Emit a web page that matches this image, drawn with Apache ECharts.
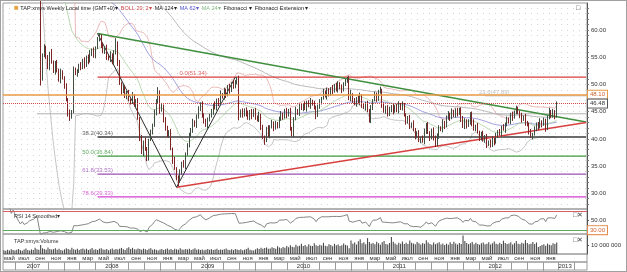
<!DOCTYPE html>
<html><head><meta charset="utf-8">
<script src="https://cdn.jsdelivr.net/npm/echarts@6/dist/echarts.min.js"></script>
<style>
html,body{margin:0;padding:0;background:#fff}
#c{width:625px;height:270px;border:1px solid #a0a0a0}
</style>
</head><body><div id="c"></div>
<script>
// ---------------- DATA ----------------
const startWeek = Date.UTC(2007, 4, 14);   // first weekly slot on the axis
const totalWeeks = 318;                    // weekly slots shown on the x axis
// weekly closes before the 2:1 split (above the visible price range)
const preSplitOpen = 93.0;
const preSplitClose = [93.5,95.2,94.1,96.8,95.5,97.2,96.1,94.8,93.2,91.5,92.8,90.6,89.9,91.7,93.4,92.2,94.5,96.3,97.8,99.1];
// weekly closes after the split
const postSplitClose = [
51.0,55.5,56.8,54.9,53.2,55.8,54.1,52.3,53.9,52.6,
50.8,52.4,51.1,49.6,47.2,44.6,44.0,45.1,52.8,51.9,
52.4,53.6,53.0,54.4,53.5,55.1,54.2,55.6,56.3,55.2,56.8,
58.1,58.9,
57.2,56.0,56.8,55.1,54.6,55.5,54.0,55.9,57.6,
54.0,50.2,48.6,49.4,47.9,
48.5,47.2,46.8,47.9,46.1,46.9,
43.8,40.2,37.6,39.4,38.1,36.4,39.8,41.2,
42.5,44.8,46.9,48.6,
45.2,46.1,43.4,42.0,40.6,41.3,
38.2,36.0,34.5,32.9,32.2,
33.8,35.6,34.9,37.2,38.8,40.5,
41.7,43.2,42.5,44.1,45.3,46.4,
44.5,43.1,42.4,43.6,44.2,
45.0,46.3,45.6,47.1,46.5,48.2,47.6,
48.9,48.1,49.5,48.8,50.2,49.6,50.5,51.0,
44.2,
45.1,44.3,45.4,44.6,43.8,45.0,44.2,45.3,44.0,43.5,44.4,
42.1,40.3,39.6,41.8,40.7,
42.2,43.0,41.9,42.7,42.3,
43.8,44.6,43.9,45.1,44.4,45.2,
42.0,40.9,
43.6,45.2,44.7,46.1,45.5,46.3,
45.6,46.7,46.0,47.0,46.4,45.8,44.2,45.9,46.8,
47.5,48.6,47.8,48.9,48.2,
49.3,48.7,49.8,49.1,50.2,49.4,48.9,50.1,50.6,
50.9,47.6,
48.1,47.0,46.4,47.5,46.8,47.9,46.1,45.7,46.6,45.2,43.4,
45.6,47.1,48.2,47.4,48.6,49.0,
46.2,45.0,45.8,44.4,45.3,45.9,45.1,46.0,45.4,46.3,45.6,46.4,
44.3,43.1,43.9,42.4,42.8,
41.6,40.4,41.1,39.8,40.2,39.5,
41.3,42.6,41.2,40.1,41.5,40.3,
38.9,
40.5,42.1,41.6,43.0,42.4,43.9,
44.6,43.8,45.0,44.3,45.2,44.7,45.5,
43.6,42.2,43.4,42.5,43.1,44.6,
43.0,41.8,42.4,41.2,40.1,40.9,39.8,40.4,38.9,39.5,
38.8,39.9,39.3,
40.6,41.4,40.9,42.1,41.7,
42.8,43.6,43.1,44.4,43.9,
45.0,45.6,44.8,
44.2,43.5,44.1,43.0,42.6,
41.2,40.4,40.9,
41.8,42.7,42.2,43.2,42.6,43.4,
42.0,
43.9,45.1,44.3,45.0,
44.2,46.48];
// upper / lower wick lengths after the split, in tenths of a dollar
const wickUp = [
4,2,6,3,5,2,7,3,4,6, 3,5,2,4,6,3,8,2,5,3, 4,2,5,3,6,2,4,7,3,5, 2,6,5,3,4,2,5,3,6,2,
4,9,3,5,2,6,4,3,5,2, 7,3,4,6,2,5,3,8,4,2, 5,3,6,4,9,3,5,2,6,4, 3,5,2,7,3,4,6,2,5,3,
4,6,3,5,2,4,7,3,5,2, 6,3,4,5,2,6,3,4,7,2, 5,3,4,6,2,5,3,4,6,3, 5,2,4,6,3,5,2,4,3,6,
2,5,3,4,7,3,5,2,6,4, 3,5,2,4,6,3,5,2,4,7, 3,5,4,2,6,3,4,5,2,6, 3,4,5,2,6,3,5,4,2,6,
3,5,4,2,6,3,4,5,7,9, 3,5,2,4,6,3,5,2,4,3, 6,2,5,3,4,6,2,5,3,4, 6,3,5,2,4,6,3,5,2,4,
3,5,2,6,4,3,5,2,4,6, 3,5,2,4,6,3,5,4,2,6, 3,4,5,2,6,3,4,5,2,3, 6,4,2,5,3,4,6,2,5,3,
4,6,3,5,2,4,6,3,5,2, 4,3,6,2,5,3,4,6,2,5, 3,4,6,2,5,3,4,6,2,5, 3,4,6,2,5,3,4,6,2,5,
3,4];
const wickDn = [
12,3,5,2,4,6,3,2,5,4, 3,6,2,4,3,5,7,3,4,2, 5,3,4,2,6,3,5,2,4,3, 4,3,2,5,3,4,6,2,5,3,
2,4,6,3,5,2,4,6,3,5, 4,2,5,3,6,4,8,3,5,4, 2,4,3,5,3,6,2,4,5,3, 4,3,6,2,5,9,3,4,2,5,
3,4,2,6,3,5,4,2,6,3, 2,5,4,3,6,2,4,5,3,2, 4,6,3,5,2,4,3,5,8,3, 4,2,5,3,4,6,2,5,3,4,
5,3,7,2,4,6,3,5,2,4, 3,5,4,2,6,3,5,4,6,2, 3,5,2,4,3,6,2,5,3,4, 6,2,4,5,3,2,6,4,3,5,
2,4,6,3,5,2,4,3,5,7, 4,2,5,3,6,4,2,5,3,4, 5,3,2,6,4,3,5,2,4,3, 2,4,6,3,5,7,3,4,2,5,
3,6,4,2,5,3,4,6,2,5, 4,3,5,2,6,4,3,5,2,4, 6,3,4,5,2,3,4,6,3,5, 2,4,6,3,5,7,3,4,2,5,
4,3,5,6,2,4,3,5,2,4, 3,5,2,6,5,3,4,6,2,5, 3,4,5,2,6,3,4,2,5,3, 4,6,3,5,2,7,4,3,5,4,
6,3];
// weekly volume, millions of shares (all slots with data)
const volume = [
4.1,3.6,4.8,3.9,5.2,4.4,3.8,4.6,5.5,4.2,3.7,4.9,6.1,4.5,3.9,5.0,4.3,6.8,5.1,4.6,9.8,6.2,5.4,4.8,7.1,5.6,4.9,5.3,6.4,4.7,5.8,4.4,3.9,
5.1,6.3,5.5,4.8,6.9,5.2,4.6,5.8,4.3,5.5,6.1,4.9,5.7,4.4,5.2,6.6,4.8,5.3,4.5,5.9,6.4,5.0,4.7,5.6,4.2,5.1,6.0,4.6,5.4,4.9,5.8,6.7,5.3,4.5,6.2,7.4,5.6,6.8,5.2,4.9,6.1,5.5,4.7,5.9,5.1,4.4,5.7,6.3,4.8,5.2,4.6,3.8,
4.9,5.6,4.5,5.3,6.1,4.8,5.5,4.3,5.9,5.2,4.7,6.4,5.0,4.6,5.4,4.9,5.8,4.4,5.1,6.2,4.7,5.3,4.5,5.0,4.2,4.8,5.5,4.6,5.2,4.4,4.9,5.7,4.3,5.0,4.6,5.3,6.0,4.8,4.5,5.1,4.3,5.6,4.9,4.4,5.2,4.1,4.7,5.4,6.8,4.6,4.2,3.9,
5.1,6.3,5.4,6.8,5.9,6.5,7.2,5.8,6.1,7.5,6.6,5.9,8.4,7.1,6.4,7.8,6.9,8.8,7.3,9.6,8.1,7.4,10.2,8.6,9.1,11.4,8.9,9.8,8.3,10.6,9.2,8.7,11.8,9.5,8.8,10.1,9.4,12.3,9.0,8.5,10.7,9.9,8.4,11.2,9.6,10.4,8.9,9.7,11.5,10.0,9.3,6.2,
14.8,11.2,12.6,10.4,13.9,16.2,11.8,12.9,10.6,17.5,13.1,11.4,12.2,10.8,13.6,11.9,10.3,12.8,14.4,11.1,10.5,12.1,18.6,13.4,11.6,10.2,12.5,11.3,13.8,10.9,12.4,11.0,14.9,12.3,11.5,10.7,13.2,11.8,10.4,12.0,11.2,15.1,12.7,11.0,10.3,12.6,10.8,11.9,13.0,10.5,11.6,9.8,
11.4,10.2,12.8,10.9,13.5,11.6,10.4,12.1,11.0,20.4,14.3,12.2,10.8,11.7,13.3,10.6,12.4,11.1,10.3,11.9,12.6,10.7,11.3,12.9,10.5,11.8,13.7,11.2,10.6,12.3,11.0,14.6,12.1,10.9,11.5,12.8,10.4,11.9,14.2,11.3,10.8,12.5,11.6,15.3,12.0,10.6,11.4,13.1,10.9,12.7,7.8,8.9,
9.8,10.6,9.2,11.4,10.1,9.6,11.8,10.9,12.6];
// drawing tool levels (prices) and anchor weeks (slot indices)
const fibRatios = ['0.0','38.2','50.0','61.8','78.6'];
const fibPrices = [51.34, 40.34, 36.84, 33.53, 29.33];
const fibStartWeek = 51;
const fibExtRatio = '23.6', fibExtPrice = 47.89, fibExtStartWeek = 262;
const zigzagWeeks = [51, 94, 126], zigzagPrices = [59.35, 31.1, 51.34];
const greenTrendWeeks = [51, 317], greenTrendPrices = [59.35, 43.1];
const redTrendWeeks = [94, 317], redTrendPrices = [31.1, 43.0];
const orangeLevel = 48.10, lastPrice = 46.48, grayLevel = 44.6, grayLevelStartWeek = 18;
const priceTicks = [30, 35, 40, 45, 50, 55, 60];
const rsiLevels = [70, 30], rsiTickLabels = [50];
const volTicks = [10];
const monthNames = ['янв', 'мар', 'май', 'июл', 'сен', 'ноя'];
const yearLabels = ['2007', '2008', '2009', '2010', '2011', '2012', '2013'];

// ---------------- BUILD ----------------
const WEEK = 7 * 864e5;
const categories = Array.from({length: totalWeeks}, (_, k) => new Date(startWeek + k * WEEK).toISOString().slice(0, 10));
const closes = preSplitClose.concat(postSplitClose);
const nPre = preSplitClose.length;
const candles = closes.map((c, k) => {
  const o = k === 0 ? preSplitOpen : closes[k - 1];
  const j = k - nPre;
  const up = j >= 0 ? wickUp[j] / 10 : 0, dn = j >= 0 ? wickDn[j] / 10 : 0;
  return [o, c, +(Math.min(o, c) - dn).toFixed(2), +(Math.max(o, c) + up).toFixed(2)];
});
function ema(n) {
  const a = 2 / (n + 1); let e = closes[0];
  return closes.map((c, k) => { e = k === 0 ? c : e + a * (c - e); return +e.toFixed(3); });
}
const boll = (() => {
  const up = [], lo = [];
  closes.forEach((c, k) => {
    if (k < 19) { up.push('-'); lo.push('-'); return; }
    const w = closes.slice(k - 19, k + 1);
    const m = w.reduce((s, v) => s + v, 0) / 20;
    const sd = Math.sqrt(w.reduce((s, v) => s + (v - m) * (v - m), 0) / 20);
    up.push(+(m + 2 * sd).toFixed(3)); lo.push(+(m - 2 * sd).toFixed(3));
  });
  return {up, lo};
})();
const rsi = (() => {
  const out = ['-']; let ag = 0, al = 0;
  for (let k = 1; k < closes.length; k++) {
    const d = closes[k] - closes[k - 1], g = Math.max(d, 0), l = Math.max(-d, 0);
    if (k <= 14) { ag = (ag * (k - 1) + g) / k; al = (al * (k - 1) + l) / k; }
    else { ag = (ag * 13 + g) / 14; al = (al * 13 + l) / 14; }
    out.push(k < 3 ? '-' : +(al === 0 ? 100 : 100 - 100 / (1 + ag / al)).toFixed(2));
  }
  return out;
})();
const pos = t => (t - startWeek) / WEEK;
const lastDataT = startWeek + (closes.length - 1) * WEEK;
function cells(starts, labelOf) {
  const bounds = [], centers = [], labels = [];
  for (let i = 0; i < starts.length - 1; i++) {
    const a = pos(starts[i]), b = pos(starts[i + 1]);
    if (b <= 0 || a >= totalWeeks) continue;
    if (a > 0) bounds.push(a);
    if (starts[i] <= lastDataT) { centers.push((Math.max(a, 0) + Math.min(b, totalWeeks)) / 2); labels.push(labelOf(starts[i])); }
  }
  return {bounds, centers, labels};
}
const biMonthStarts = []; for (let y = 2007; y <= 2014; y++) for (let m = 0; m < 12; m += 2) biMonthStarts.push(Date.UTC(y, m, 1));
const mCells = cells(biMonthStarts, t => monthNames[new Date(t).getUTCMonth() / 2]);
const yearStarts = []; for (let y = 2007; y <= 2014; y++) yearStarts.push(Date.UTC(y, 0, 1));
const yCells = cells(yearStarts, t => yearLabels[new Date(t).getUTCFullYear() - 2007]);
const lookup = (c, v) => { for (let i = 0; i < c.centers.length; i++) if (Math.abs(c.centers[i] - v) < 0.01) return c.labels[i]; return ''; };

// ---------------- STYLE / LAYOUT ----------------
const FONT = 'Liberation Sans, Arial, sans-serif';
const TXT = '#333';
const fibColors = ['#d83a3a', '#3a3a3a', '#3d9a3d', '#9b50b5', '#d23fd2'];
const fibLabelWeek = [103, 51, 51, 51, 51];
const L = 2, W = 584;
const grids = [
  {left: L, top: 2, width: W, height: 206},
  {left: L, top: 208, width: W, height: 25},
  {left: L, top: 233, width: W, height: 20},
  {left: L, top: 253, width: W, height: 8},
  {left: L, top: 261, width: W, height: 8}
].map(g => Object.assign({show: true, borderColor: '#9a9a9a', borderWidth: 1, backgroundColor: 'transparent'}, g));

const catAxis = gi => ({type: 'category', gridIndex: gi, data: categories, boundaryGap: true, show: false});
const rowAxis = (gi, c) => ({
  type: 'value', gridIndex: gi, min: 0, max: totalWeeks, position: 'top',
  axisLine: {show: false}, splitLine: {show: false},
  axisTick: {show: true, inside: true, length: 8, customValues: c.bounds, lineStyle: {color: '#9a9a9a'}},
  axisLabel: {show: true, inside: true, margin: 1, customValues: c.centers, formatter: v => lookup(c, v),
    fontSize: 6, color: TXT, fontFamily: FONT, verticalAlign: 'top'}
});
const minorTicks = []; for (let v = 28; v <= 64; v++) minorTicks.push(v);

const lineS = (name, data, color, width, type, extra) => Object.assign({
  name, type: 'line', xAxisIndex: 0, yAxisIndex: 0, data, symbol: 'none', silent: true,
  lineStyle: {color, width, type: type || 'solid'}, z: 3, animation: false
}, extra || {});
const seg = (weeks, prices) => weeks.map((w, i) => [w, prices[i]]);
const endBox = (txt, border, color) => ({show: true, position: 'end', distance: 1, formatter: txt,
  fontSize: 6, fontFamily: FONT, color, backgroundColor: '#fff', borderColor: border, borderWidth: 1, padding: [1, 2]});

const series = [
  {type: 'candlestick', xAxisIndex: 0, yAxisIndex: 0, data: candles, barWidth: 1.3, z: 4,
   itemStyle: {color: '#56685a', color0: '#7e2424', borderColor: '#3f4f42', borderColor0: '#7e2424', borderWidth: 1},
   markLine: {symbol: 'none', silent: true, animation: false, data: [
     {yAxis: orangeLevel, lineStyle: {color: '#ea9a45', width: 1.6, type: 'solid'}, label: endBox(orangeLevel.toFixed(2), '#ea9a45', '#d0602a')},
     {yAxis: lastPrice, lineStyle: {color: '#d04848', width: 1, type: 'dotted'}, label: endBox(lastPrice.toFixed(2), '#555', '#333')}
   ]}},
  lineS('BOLL up', boll.up, '#e6aaaa', 0.8),
  lineS('BOLL low', boll.lo, '#b8b8b8', 0.8),
  lineS('MA 124', ema(124), '#a9a9a9', 0.8),
  lineS('MA 62', ema(62), '#8a8ad8', 0.8),
  lineS('MA 24', ema(24), '#a8d0a0', 0.8),
  lineS('gray level', [[grayLevelStartWeek, grayLevel], [totalWeeks - 1, grayLevel]], '#b0b0b0', 1),
  lineS('fib ext', [[fibExtStartWeek, fibExtPrice], [totalWeeks - 1, fibExtPrice]], '#c8c8c8', 1),
  ...fibPrices.map((p, i) => lineS('fib ' + fibRatios[i], [[fibStartWeek, p], [totalWeeks - 1, p]], fibColors[i], i === 1 ? 1.6 : 1.2)),
  lineS('green trend', seg(greenTrendWeeks, greenTrendPrices), '#3f8f3f', 1.4),
  lineS('red trend', seg(redTrendWeeks, redTrendPrices), '#d84040', 1.4),
  lineS('zigzag', seg(zigzagWeeks, zigzagPrices), '#2a2a2a', 1),
  {type: 'scatter', xAxisIndex: 0, yAxisIndex: 0, symbolSize: 0.1, silent: true, z: 5,
   itemStyle: {color: 'transparent'},
   data: fibPrices.map((p, i) => ({value: [fibLabelWeek[i], p],
     label: {show: true, position: 'top', distance: 1, formatter: fibRatios[i] + '(' + p.toFixed(2) + ')', color: fibColors[i], fontSize: 6, fontFamily: FONT}}))
     .concat([{value: [267, fibExtPrice], label: {show: true, position: 'top', distance: 1, formatter: fibExtRatio + '(' + fibExtPrice.toFixed(2) + ')', color: '#b0b0b0', fontSize: 6, fontFamily: FONT}}])},
  {type: 'line', xAxisIndex: 1, yAxisIndex: 1, data: rsi, symbol: 'none', silent: true,
   lineStyle: {color: '#858585', width: 1},
   markLine: {symbol: 'none', silent: true, animation: false, data: [
     {yAxis: rsiLevels[0], lineStyle: {color: '#d86060', width: 1, type: 'solid'}, label: {show: false}},
     {yAxis: rsiLevels[1], lineStyle: {color: '#5aaa5a', width: 1, type: 'solid'}, label: endBox(rsiLevels[1].toFixed(2), '#e58a4a', '#d0602a')}
   ]}},
  {type: 'bar', xAxisIndex: 2, yAxisIndex: 2, data: volume, barWidth: 1.1, silent: true,
   itemStyle: {color: '#4a4a4a'}}
];

const ttl = (text, left, top, color, size) => ({text, left, top, padding: 0, textStyle: {fontSize: size || 5.5, fontWeight: 'normal', color: color || TXT, fontFamily: FONT}});
const legendRow = {
  left: 13, top: 3, padding: 0,
  text: '{ic|■} {a|TAP:xmys Weekly Local time (GMT+0)▾}  {b|BOLL 20; 2▾}  {a|MA 124▾}  {c|MA 62▾}  {d|MA 24▾}  {a|Fibonacci ▾}  {a|Fibonacci Extension ▾}',
  textStyle: {fontSize: 5.5, fontWeight: 'normal', fontFamily: FONT, color: TXT, rich: {
    ic: {fontSize: 8, color: '#e6a447'},
    a: {fontSize: 5.5, color: '#222', fontFamily: FONT},
    b: {fontSize: 5.5, color: '#d04848', fontFamily: FONT},
    c: {fontSize: 5.5, color: '#5656d0', fontFamily: FONT},
    d: {fontSize: 5.5, color: '#86b886', fontFamily: FONT}
  }}
};
const option = {
  animation: false,
  grid: grids,
  xAxis: [catAxis(0), catAxis(1), catAxis(2), rowAxis(3, mCells), rowAxis(4, yCells)],
  yAxis: [
    {type: 'value', gridIndex: 0, position: 'right', min: 27.11, max: 64.96,
     axisLine: {show: true, lineStyle: {color: '#555'}},
     axisTick: {show: true, length: 2, customValues: minorTicks, lineStyle: {color: '#777'}},
     axisLabel: {customValues: priceTicks, formatter: v => v.toFixed(2), fontSize: 6, color: TXT, fontFamily: FONT, margin: 4},
     splitLine: {show: true, lineStyle: {color: '#d8d8d8', type: [1, 5]}}},
    {type: 'value', gridIndex: 1, position: 'right', min: 22, max: 74,
     axisLine: {show: true, lineStyle: {color: '#555'}}, axisTick: {show: true, length: 2, customValues: rsiTickLabels},
     axisLabel: {customValues: rsiTickLabels, formatter: v => v.toFixed(2), fontSize: 6, color: TXT, fontFamily: FONT, margin: 4},
     splitLine: {show: false}},
    {type: 'value', gridIndex: 2, position: 'right', min: 0, max: 22,
     axisLine: {show: true, lineStyle: {color: '#555'}}, axisTick: {show: true, length: 2, customValues: volTicks},
     axisLabel: {customValues: volTicks, formatter: v => (v * 1e6).toLocaleString('ru-RU').replace(/\s/g, ' '), fontSize: 6, color: TXT, fontFamily: FONT, margin: 4},
     splitLine: {show: false}},
    {type: 'value', gridIndex: 3, show: false},
    {type: 'value', gridIndex: 4, show: false}
  ],
  title: [
    legendRow,
    ttl('□', 575, 4, '#444', 7),
    ttl('RSI 14 Smoothed▾', 13, 212),
    ttl('□✕', 572, 211, '#444', 7),
    ttl('TAP:xmys:Volume', 13, 237),
    ttl('□✕', 572, 236, '#444', 7)
  ],
  series
};
const chart = echarts.init(document.getElementById('c'));
chart.setOption(option);
</script>
</body></html>
